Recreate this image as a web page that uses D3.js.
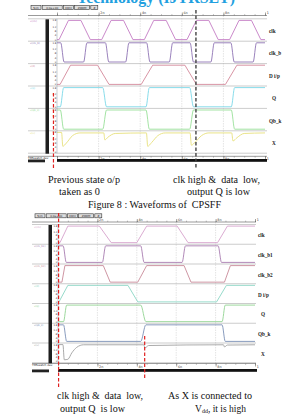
<!DOCTYPE html>
<html>
<head>
<meta charset="utf-8">
<script src="https://cdn.jsdelivr.net/npm/d3@7"></script>
<style>
  body { margin: 0; background: #fff; }
  svg { display: block; }
  text { white-space: pre; }
</style>
</head>
<body>
<div id="chart"></div>
<script>
// ---- data: time in ns, level in volts ----
const tickTimes = [0, 2, 4, 6, 8, 10];
const tickLabels = ["", "2n", "4n", "6n", "8n", "1"];
const voltTicks = [0, 0.4, 0.8, 1.2, 1.8];
const voltLabels = ["0", ".4", ".8", "1.2", "1.8"];
const toolbarWidths = [10, 20, 10, 15, 7];
const toolbarLabels = ["Sim", "0.0e+00", "XDIV", "ZOOM", "#"];

// figure 8 (top)
const topNames = ["clk", "clk_b", "D i/p", "Q", "Qb_k", "X"];
const topTraces = ["v(clk)", "v(clk_b)", "v(d)", "v(q)", "v(qb_k)", "v(x)"];
const topColors = ["#c47cc4", "#8e74b4", "#d4889a", "#7ad8e8", "#98e098", "#e6e07a"];
const topClk = [[0,0],[0.1,0],[0.55,1.8],[1.15,1.8],[1.6,0],[2.15,0],[2.6,1.8],[3.2,1.8],[3.65,0],[4.2,0],[4.65,1.8],[5.25,1.8],[5.7,0],[6.25,0],[6.7,1.8],[7.3,1.8],[7.75,0],[8.3,0],[8.75,1.8],[9.35,1.8],[9.8,0],[10,0]];
const topClkB = [[0,1.8],[0.18,1.8],[0.34,0],[1.28,0],[1.44,1.8],[2.33,1.8],[2.49,0],[3.3,0],[3.46,1.8],[4.31,1.8],[4.47,0],[5.4,0],[5.56,1.8],[6.4,1.8],[6.56,0],[7.4,0],[7.56,1.8],[8.36,1.8],[8.52,0],[9.43,0],[9.59,1.8],[10,1.8]];
const topD = [[0,0],[0.15,0],[0.65,1.8],[1.95,1.8],[2.5,0],[4.05,0],[4.6,1.8],[6.15,1.8],[6.7,0],[8.1,0],[8.65,1.8],[10,1.8]];
const topQ = [[0,0],[0.16,0],[0.32,1.8],[2.2,1.8],[2.38,0],[4.28,0],[4.44,1.8],[6.38,1.8],[6.56,0],[8.38,0],[8.54,1.8],[10,1.8]];
const topQbk = [[0,1.8],[0.16,1.8],[0.32,0],[2.2,0],[2.38,1.8],[4.28,1.8],[4.44,0],[6.38,0],[6.56,1.8],[8.38,1.8],[8.54,0],[10,0]];
const topX = [[0,1.8],[0.22,1.8],[0.28,0.5],[0.45,0.8],[0.75,1.5],[1.1,1.75],[2.25,1.75],[2.3,1.1],[2.45,1.35],[2.8,1.7],[4.3,1.75],[4.36,0.5],[4.55,0.85],[4.85,1.5],[5.2,1.75],[6.4,1.75],[6.46,0.6],[6.65,0.9],[6.95,1.5],[7.3,1.75],[8.4,1.75],[8.46,1.0],[8.65,1.3],[9.0,1.7],[10,1.75]];
const topMarkerTimes = [-0.17, 6.68];

// second waveform set (bottom)
const botNames = ["clk", "clk_b1", "clk_b2", "D i/p", "Q", "Qb_k", "X"];
const botTraces = ["v(clk)", "v(clk_b1)", "v(clk_b2)", "v(d)", "v(q)", "v(qb_k)", "v(x)"];
const botColors = ["#d6a2cc", "#a87cb0", "#c88a98", "#8ad6c4", "#92d492", "#7a90b6", "#a0a0a0"];
const botClk = [[0,0],[0.1,0],[0.5,1.8],[2.1,1.8],[2.7,0],[4.0,0],[4.5,1.8],[6.05,1.8],[6.6,0],[8.1,0],[8.6,1.8],[10,1.8]];
const botClkB1 = [[0,1.8],[0.26,1.8],[0.42,0],[2.25,0],[2.42,1.8],[4.2,1.8],[4.37,0],[6.3,0],[6.47,1.8],[8.13,1.8],[8.3,0],[10,0]];
const botClkB2 = [[0,0],[0.2,0],[0.35,1.8],[2.3,1.8],[2.65,0],[4.05,0],[4.5,1.8],[6.4,1.8],[6.75,0],[8.45,0],[8.75,1.8],[10,1.8]];
const botD = [[0,0],[0.05,0],[0.5,1.8],[3.55,1.8],[4.05,0],[8.05,0],[8.55,1.8],[10,1.8]];
const botQ = [[0,0],[0.28,0],[0.44,1.8],[4.2,1.8],[4.46,0],[8.33,0],[8.49,1.8],[10,1.8]];
const botQbk = [[0,1.8],[0.28,1.8],[0.44,0],[4.2,0],[4.46,1.8],[8.33,1.8],[8.49,0],[10,0]];
const botX = [[0,1.8],[0.25,1.8],[0.32,0.15],[0.5,0.2],[0.7,0.9],[0.95,1.5],[1.3,1.78],[4.35,1.78],[4.42,1.45],[4.6,1.7],[8.4,1.78],[8.45,1.55],[8.6,1.75],[10,1.78]];
const botMarkerTimes = [0.03, 4.4];

const topNotes = ["Previous state o/p", "taken as 0", "clk high &  data  low,", "output Q is low"];
const caption = "Figure 8 : Waveforms of  CPSFF";
const botNotes = ["clk high &  data  low,", "output Q  is low", "As X is connected to"];

const W = 293, H = 419;
const serif = "Liberation Serif, Times New Roman, serif";
const sans = "DejaVu Sans, sans-serif";

const svg = d3.select("#chart").append("svg")
    .attr("width", W)
    .attr("height", H);

// cut-off journal header at the very top
svg.append("text")
    .attr("x", 156).attr("y", 2.7)
    .attr("text-anchor", "middle")
    .attr("font-family", serif).attr("font-weight", "bold").attr("font-size", 17)
    .attr("fill", "#22a0e0")
    .attr("textLength", 158).attr("lengthAdjust", "spacingAndGlyphs")
    .text("Technology (IJTRSET)");

function drawPanel(p, rows) {
    const x = d3.scaleLinear().domain([0, 10]).range([p.x0, p.x1]);
    const g = svg.append("g");
    const plotBottom = p.rowTop + rows.length * p.rowH;

    // toolbar
    let tx = p.toolX;
    toolbarWidths.forEach((w, i) => {
        g.append("rect").attr("x", tx).attr("y", p.toolY).attr("width", w).attr("height", 4)
            .attr("fill", "#dedede").attr("stroke", "#333").attr("stroke-width", 0.6);
        g.append("text").attr("x", tx + w / 2).attr("y", p.toolY + 3.1)
            .attr("text-anchor", "middle").attr("font-family", sans).attr("font-size", 2.8)
            .attr("fill", "#222").text(toolbarLabels[i]);
        tx += w + 1.2;
    });

    // grid
    g.selectAll(null).data(tickTimes.slice(1, -1)).join("line")
        .attr("x1", d => x(d)).attr("x2", d => x(d))
        .attr("y1", p.axisTop).attr("y2", p.axisBottom)
        .attr("stroke", "#c8c8c8").attr("stroke-width", 0.5)
        .attr("stroke-dasharray", "1.5,1");

    // top and bottom time axes
    [[p.axisTop, d3.axisTop, -1.3], [p.axisBottom, d3.axisBottom, 4]].forEach(([yy, axisFn, ty]) => {
        g.append("line").attr("x1", p.frameLeft).attr("x2", p.frameRight)
            .attr("y1", yy).attr("y2", yy).attr("stroke", "#555").attr("stroke-width", 0.6);
        const minor = g.append("g").attr("transform", `translate(0,${yy})`)
            .call(axisFn(x).tickValues(d3.range(0, 10.01, 0.5)).tickSize(1.4).tickFormat(""));
        minor.select(".domain").remove();
        minor.selectAll("line").attr("stroke", "#666").attr("stroke-width", 0.4);
        const major = g.append("g").attr("transform", `translate(0,${yy})`)
            .call(axisFn(x).tickValues(tickTimes).tickSize(3).tickFormat((d, i) => tickLabels[i]));
        major.select(".domain").remove();
        major.selectAll("line").attr("stroke", "#444").attr("stroke-width", 0.5);
        major.selectAll("text")
            .attr("x", 1.2).attr("y", ty).attr("dy", null)
            .attr("text-anchor", "start")
            .attr("font-family", sans).attr("font-size", 3.3).attr("fill", "#333");
    });

    // rows
    rows.forEach((r, i) => {
        const top = p.rowTop + i * p.rowH, bot = top + p.rowH;
        const y = d3.scaleLinear().domain([0, 1.8]).range([bot - 1.6, top + 1.6]);
        if (i === 0) {
            g.append("line").attr("x1", p.frameLeft).attr("x2", p.frameRight)
                .attr("y1", top).attr("y2", top).attr("stroke", "#aaa").attr("stroke-width", 0.6);
        }
        g.append("line").attr("x1", p.frameLeft).attr("x2", p.frameRight)
            .attr("y1", bot).attr("y2", bot).attr("stroke", "#aaa").attr("stroke-width", 0.6);

        // trace name at left
        g.append("text").attr("x", p.frameLeft + 2).attr("y", top + 3)
            .attr("font-family", sans).attr("font-size", 2.5).attr("fill", r.color)
            .text(r.trace);

        // volt ticks
        g.selectAll(null).data(voltTicks).join("text")
            .attr("x", p.x0 - 0.6).attr("y", d => y(d) + 0.9)
            .attr("text-anchor", "end").attr("font-family", sans).attr("font-size", 2.5)
            .attr("fill", "#333")
            .text((d, k) => voltLabels[k]);

        const line = d3.line()
            .x(d => x(d[0]))
            .y(d => y(d[1]))
            .curve(r.curve);
        g.append("path").datum(r.data)
            .attr("d", line)
            .attr("fill", "none")
            .attr("stroke", r.color)
            .attr("stroke-width", 0.9);

        // signal name at right
        g.append("text")
            .attr("x", p.frameRight + 2 + (r.name.length === 1 ? 3 : 0))
            .attr("y", (top + bot) / 2 + 3)
            .attr("font-family", serif).attr("font-weight", "bold").attr("font-size", 5.2)
            .attr("fill", "#222")
            .text(r.name);
    });

    // y axis line
    g.append("line").attr("x1", p.x0).attr("x2", p.x0)
        .attr("y1", p.rowTop).attr("y2", plotBottom)
        .attr("stroke", "#999").attr("stroke-width", 0.5);

    // thick black bar beside the volt scales
    g.append("rect").attr("x", p.barX).attr("y", p.rowTop + 0.5)
        .attr("width", 3.5).attr("height", plotBottom - p.rowTop)
        .attr("fill", "#1e1e1e");

    // time slider under the plot
    g.append("rect").attr("x", p.x0).attr("y", p.sliderY)
        .attr("width", p.x1 + 2 - p.x0).attr("height", 2.8).attr("fill", "#111");
    g.append("rect").attr("x", p.frameLeft).attr("y", p.sliderY + 0.5)
        .attr("width", 17).attr("height", 2.8).attr("fill", "#222");
    g.append("text").attr("x", p.frameLeft).attr("y", p.axisBottom + 2.2)
        .attr("font-family", sans).attr("font-size", 2.8).attr("fill", "#222")
        .text("TMSwatch dev");

    return x;
}

const xTop = drawPanel({
    x0: 57, x1: 265, frameLeft: 28, frameRight: 267,
    toolX: 31, toolY: 5.5, axisTop: 15.5, axisBottom: 156.3,
    rowTop: 18.8, rowH: 22.4, barX: 45.5, sliderY: 159
}, [
    {name: topNames[0], trace: topTraces[0], color: topColors[0], data: topClk, curve: d3.curveLinear},
    {name: topNames[1], trace: topTraces[1], color: topColors[1], data: topClkB, curve: d3.curveMonotoneX},
    {name: topNames[2], trace: topTraces[2], color: topColors[2], data: topD, curve: d3.curveLinear},
    {name: topNames[3], trace: topTraces[3], color: topColors[3], data: topQ, curve: d3.curveMonotoneX},
    {name: topNames[4], trace: topTraces[4], color: topColors[4], data: topQbk, curve: d3.curveMonotoneX},
    {name: topNames[5], trace: topTraces[5], color: topColors[5], data: topX, curve: d3.curveMonotoneX}
]);

const xBot = drawPanel({
    x0: 58, x1: 255, frameLeft: 32, frameRight: 256,
    toolX: 35, toolY: 213.8, axisTop: 222, axisBottom: 363.5,
    rowTop: 224.5, rowH: 19.75, barX: 48.5, sliderY: 369
}, [
    {name: botNames[0], trace: botTraces[0], color: botColors[0], data: botClk, curve: d3.curveLinear},
    {name: botNames[1], trace: botTraces[1], color: botColors[1], data: botClkB1, curve: d3.curveMonotoneX},
    {name: botNames[2], trace: botTraces[2], color: botColors[2], data: botClkB2, curve: d3.curveLinear},
    {name: botNames[3], trace: botTraces[3], color: botColors[3], data: botD, curve: d3.curveLinear},
    {name: botNames[4], trace: botTraces[4], color: botColors[4], data: botQ, curve: d3.curveMonotoneX},
    {name: botNames[5], trace: botTraces[5], color: botColors[5], data: botQbk, curve: d3.curveMonotoneX},
    {name: botNames[6], trace: botTraces[6], color: botColors[6], data: botX, curve: d3.curveMonotoneX}
]);

// dashed marker lines
function marker(xv, y1, y2, color, width) {
    svg.append("line").attr("x1", xv).attr("x2", xv).attr("y1", y1).attr("y2", y2)
        .attr("stroke", color).attr("stroke-width", width).attr("stroke-dasharray", "3.5,2");
}
marker(xTop(topMarkerTimes[0]), 93, 168, "#e02020", 1.2);
marker(xTop(topMarkerTimes[1]), 10, 168, "#444", 1.4);
marker(xBot(botMarkerTimes[0]), 213, 387, "#e02020", 1.2);
marker(xBot(botMarkerTimes[1]), 336, 380, "#e02020", 1.2);

// annotations
function note(str, cx, y, w) {
    return svg.append("text")
        .attr("x", cx).attr("y", y)
        .attr("text-anchor", "middle")
        .attr("font-family", serif).attr("font-size", 9.5).attr("fill", "#111")
        .attr("textLength", w).attr("lengthAdjust", "spacingAndGlyphs")
        .text(str);
}
note(topNotes[0], 84, 182.5, 72);
note(topNotes[1], 79.5, 195, 41);
note(topNotes[2], 216.5, 182.5, 87);
note(topNotes[3], 218.5, 195, 63);
note(caption, 154.5, 207.5, 133);
note(botNotes[0], 100, 399, 86);
note(botNotes[1], 92.5, 411.5, 65);
note(botNotes[2], 210, 399, 84);

const vdd = svg.append("text")
    .attr("x", 195).attr("y", 411.5)
    .attr("font-family", serif).attr("font-size", 9.5).attr("fill", "#111");
vdd.append("tspan").text("V");
vdd.append("tspan").attr("font-size", 6).attr("dy", 1.8).text("dd");
vdd.append("tspan").attr("dy", -1.8).text(", it is high");
</script>
</body>
</html>
